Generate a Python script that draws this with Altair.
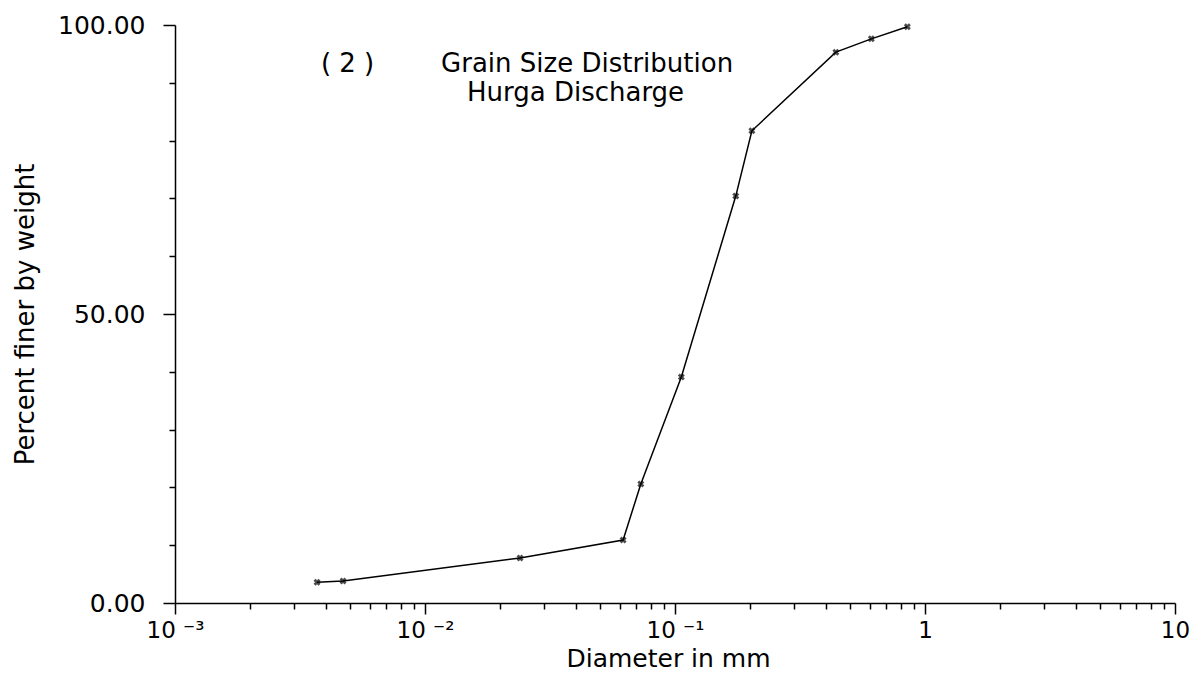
import altair as alt
import pandas as pd

diameter = [0.0037, 0.0047, 0.024, 0.062, 0.073, 0.106, 0.175, 0.203, 0.44, 0.61, 0.85]
percent = [3.6, 3.8, 7.8, 10.9, 20.6, 39.1, 70.4, 81.7, 95.3, 97.6, 99.7]

x_ticks = [m * 10.0 ** e for e in range(-3, 1) for m in range(1, 10)] + [10.0]
y_ticks = list(range(0, 101, 5))

notes_text = ["( 2 )", "Grain Size Distribution", "Hurga Discharge"]
notes_x = [0.0049, 0.0445, 0.0400]
notes_y = [93.3, 93.3, 88.3]

FONT = "DejaVu Sans"

df = pd.DataFrame({"d": diameter, "p": percent})
notes = pd.DataFrame({"t": notes_text, "x": notes_x, "y": notes_y})

decade_test = "abs(log(datum.value)/LN10 - round(log(datum.value)/LN10)) < 0.000001"
x_label_expr = (
    "abs(datum.value-0.001)<1e-9 ? '10 \u207b\u00b3' : "
    "abs(datum.value-0.01)<1e-9 ? '10 \u207b\u00b2' : "
    "abs(datum.value-0.1)<1e-9 ? '10 \u207b\u00b9' : "
    "abs(datum.value-1)<1e-9 ? '1' : "
    "abs(datum.value-10)<1e-9 ? '10' : ''"
)

x_scale = alt.Scale(type="log", domain=[0.001, 10], nice=False)
y_scale = alt.Scale(domain=[0, 100], nice=False)

x_axis = alt.Axis(
    values=x_ticks,
    labelExpr=x_label_expr,
    tickSize={"condition": {"test": decade_test, "value": 11}, "value": 6},
    tickColor="black",
    tickWidth=1.5,
    domainColor="black",
    domainWidth=1.5,
    grid=False,
    labelFont=FONT,
    labelFontSize=23,
    labelColor="black",
    labelPadding=5,
    labelFlush=False,
    labelOverlap=False,
    title="Diameter in mm",
    titleFont=FONT,
    titleFontSize=25,
    titleFontWeight="normal",
    titleColor="black",
    titleX=493,
    titleY=55,
    titleBaseline="middle",
)

y_axis = alt.Axis(
    values=y_ticks,
    labelExpr="datum.value % 50 === 0 ? format(datum.value, '.2f') : ''",
    tickSize={"condition": {"test": "datum.value % 50 === 0", "value": 12}, "value": 6},
    tickColor="black",
    tickWidth=1.5,
    domainColor="black",
    domainWidth=1.5,
    grid=False,
    labelFont=FONT,
    labelFontSize=25,
    labelColor="black",
    labelPadding=18,
    labelFlush=False,
    labelOverlap=False,
    title="Percent finer by weight",
    titleFont=FONT,
    titleFontSize=26,
    titleFontWeight="normal",
    titleColor="black",
    titleX=-150,
    titleY=289,
    titleAngle=-90,
    titleAlign="center",
    titleBaseline="middle",
)

base = alt.Chart(df).encode(
    x=alt.X("d:Q", scale=x_scale, axis=x_axis),
    y=alt.Y("p:Q", scale=y_scale, axis=y_axis),
)

line = base.mark_line(color="black", strokeWidth=1.5)
pts = base.mark_point(shape="cross", angle=45, filled=True, color="black", size=50)

text = alt.Chart(notes).mark_text(
    font=FONT, fontSize=26, color="black", align="center", baseline="middle"
).encode(
    x=alt.X("x:Q", scale=x_scale),
    y=alt.Y("y:Q", scale=y_scale),
    text="t:N",
)

chart = (
    alt.layer(line, pts, text)
    .properties(
        width=1000,
        height=578,
        padding={"left": 167, "top": 17, "right": 16, "bottom": 76},
        autosize="none",
        background="white",
    )
    .configure_view(stroke=None)
)

chart.save("out.html", embed_options={"renderer": "svg", "actions": False})
